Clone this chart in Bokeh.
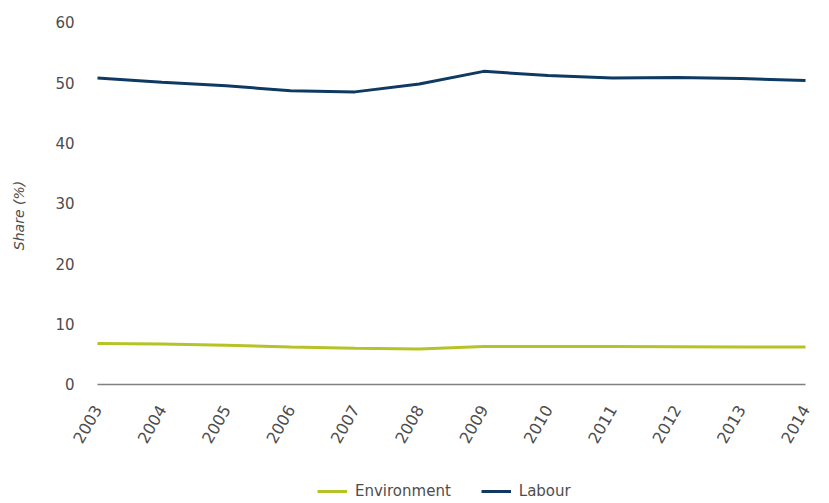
import math
from bokeh.plotting import figure
from bokeh.models import ColumnDataSource, Range1d, FixedTicker, Legend, LegendItem, Label
from bokeh.embed import file_html
from bokeh.resources import INLINE

years = [2003, 2004, 2005, 2006, 2007, 2008, 2009, 2010, 2011, 2012, 2013, 2014]
labour = [50.8, 50.1, 49.5, 48.7, 48.5, 49.8, 51.9, 51.2, 50.8, 50.9, 50.7, 50.4]
environment = [6.8, 6.7, 6.5, 6.2, 6.0, 5.9, 6.3, 6.3, 6.3, 6.25, 6.2, 6.2]
y_ticks = [0, 10, 20, 30, 40, 50, 60]

FONT = "DejaVu Sans"
TXT = "#4d4d4d"

src = ColumnDataSource(dict(year=years, labour=labour, env=environment))
base = ColumnDataSource(dict(x=[years[0], years[-1]], y=[0, 0]))

# the frame fills the whole page; both axes are pinned inside it
p = figure(frame_width=829, frame_height=503, output_backend="svg", toolbar_location=None,
           x_range=Range1d(2001.493, 2014.373), y_range=Range1d(-19.724, 63.646))
p.min_border_left = 0
p.min_border_right = 0
p.min_border_top = 0
p.min_border_bottom = 0
p.outline_line_color = None
p.xgrid.grid_line_color = None
p.ygrid.grid_line_color = None

p.line("x", "y", source=base, line_color="#808080", line_width=1.5)
r_env = p.line("year", "env", source=src, line_color="#b5c327", line_width=3)
r_lab = p.line("year", "labour", source=src, line_color="#0e3a62", line_width=3)

xa = p.xaxis[0]
xa.fixed_location = 0
xa.ticker = FixedTicker(ticks=years)
xa.major_label_orientation = math.pi / 3
xa.axis_line_color = None
xa.major_tick_line_color = None
xa.minor_tick_line_color = None
xa.major_label_text_font = FONT
xa.major_label_text_font_size = "16px"
xa.major_label_text_color = TXT
xa.major_label_standoff = 16

ya = p.yaxis[0]
ya.fixed_location = years[0]
ya.ticker = FixedTicker(ticks=y_ticks)
ya.axis_line_color = None
ya.major_tick_line_color = None
ya.minor_tick_line_color = None
ya.major_label_text_font = FONT
ya.major_label_text_font_size = "15px"
ya.major_label_text_color = TXT
ya.major_label_standoff = 17

ylab = Label(x=18, y=288, x_units="screen", y_units="screen", text="Share (%)",
             angle=math.pi / 2, text_align="center", text_baseline="middle",
             text_font=FONT, text_font_style="italic", text_font_size="14px",
             text_color=TXT)
p.add_layout(ylab)

legend = Legend(items=[LegendItem(label="Environment", renderers=[r_env]),
                       LegendItem(label="Labour", renderers=[r_lab])],
                orientation="horizontal", location=(317, 2))
legend.label_text_font = FONT
legend.label_text_font_size = "15px"
legend.label_text_color = TXT
legend.border_line_color = None
legend.background_fill_alpha = 0
legend.glyph_width = 30
legend.label_standoff = 8
legend.spacing = 30
legend.padding = 0
legend.margin = 0
p.add_layout(legend, "center")

open("out.html", "w").write(file_html(p, INLINE))
